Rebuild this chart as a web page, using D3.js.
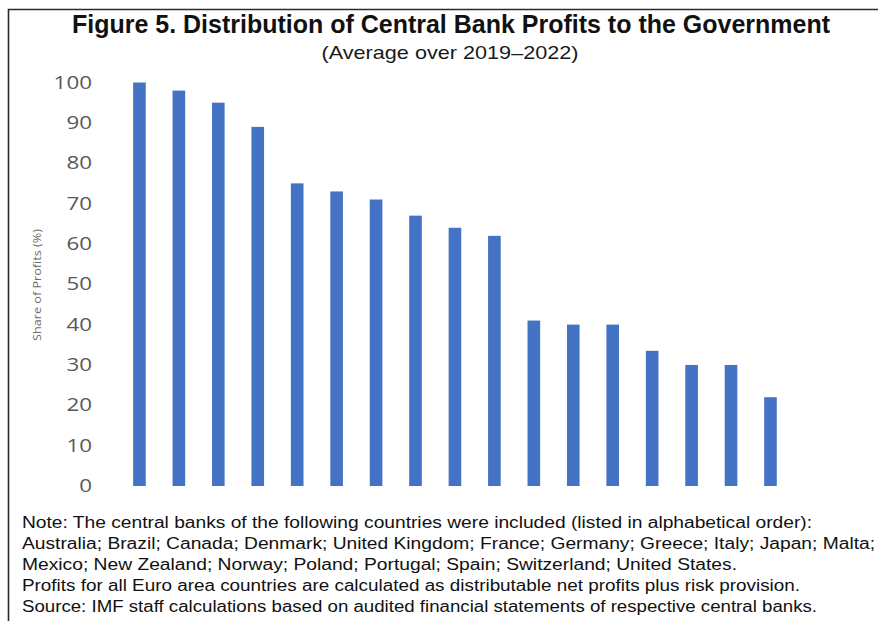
<!DOCTYPE html>
<html>
<head>
<meta charset="utf-8">
<script src="https://cdn.jsdelivr.net/npm/d3@7"></script>
<style>
  html, body { margin: 0; padding: 0; background: #ffffff; }
  svg { display: block; }
</style>
</head>
<body>
<svg id="chart" width="878" height="621"></svg>
<script>
// Central banks, sorted by share of profits distributed (unlabelled in the figure)
const categories = ["1", "2", "3", "4", "5", "6", "7", "8", "9", "10", "11", "12", "13", "14", "15", "16", "17"];
// Share of profits distributed to the government, % (average 2019–2022)
const shares = [100, 98, 95, 89, 75, 73, 71, 67, 64, 62, 41, 40, 40, 33.5, 30, 30, 22];
const yTicks = [0, 10, 20, 30, 40, 50, 60, 70, 80, 90, 100];

const titleText = "Figure 5. Distribution of Central Bank Profits to the Government";
const subtitleText = "(Average over 2019\u20132022)";
const yAxisTitle = "Share of Profits (%)";
const noteLines = [
  "Note: The central banks of the following countries were included (listed in alphabetical order):",
  "Australia; Brazil; Canada; Denmark; United Kingdom; France; Germany; Greece; Italy; Japan; Malta;",
  "Mexico; New Zealand; Norway; Poland; Portugal; Spain; Switzerland; United States.",
  "Profits for all Euro area countries are calculated as distributable net profits plus risk provision.",
  "Source: IMF staff calculations based on audited financial statements of respective central banks."
];
const noteWidths = [790, 853, 715, 778, 795];

const svg = d3.select("#chart");

// Frame: top and left rules
svg.append("path")
  .attr("d", "M878,9.5H8.5V621")
  .attr("fill", "none")
  .attr("stroke", "#2b2b2b")
  .attr("stroke-width", 1.6);

// Title block
svg.append("text")
  .attr("x", 451).attr("y", 33)
  .attr("text-anchor", "middle")
  .attr("font-family", "Liberation Sans, Arial, sans-serif")
  .attr("font-weight", "bold")
  .attr("font-size", 25)
  .attr("fill", "#111111")
  .attr("textLength", 758)
  .attr("lengthAdjust", "spacingAndGlyphs")
  .text(titleText);

svg.append("text")
  .attr("x", 450).attr("y", 59)
  .attr("text-anchor", "middle")
  .attr("font-family", "Liberation Sans, Arial, sans-serif")
  .attr("font-size", 19)
  .attr("fill", "#1a1a1a")
  .attr("textLength", 257)
  .attr("lengthAdjust", "spacingAndGlyphs")
  .text(subtitleText);

// Scales
const x = d3.scaleBand()
  .domain(categories)
  .range([113.4, 796.5])
  .paddingInner(0.68)
  .paddingOuter(0.5);

const y = d3.scaleLinear()
  .domain([0, 100])
  .range([486, 82.5]);

// Y axis (labels only, no domain line or tick marks)
const yAxis = d3.axisLeft(y)
  .tickValues(yTicks)
  .tickSize(0)
  .tickPadding(0)
  .tickFormat(d3.format("d"));

const yAxisG = svg.append("g")
  .attr("transform", "translate(92,0)")
  .call(yAxis);

yAxisG.select(".domain").remove();
yAxisG.selectAll("text")
  .attr("font-family", "Open Sans, DejaVu Sans, sans-serif")
  .attr("font-size", 17.5)
  .attr("fill", "#595959")
  .attr("textLength", d => String(d).length * 12.8)
  .attr("lengthAdjust", "spacingAndGlyphs");

// Y axis title
svg.append("text")
  .attr("transform", "translate(40.5,285) rotate(-90)")
  .attr("text-anchor", "middle")
  .attr("font-family", "Open Sans, DejaVu Sans, sans-serif")
  .attr("font-size", 11)
  .attr("fill", "#6b6b6b")
  .attr("textLength", 112)
  .attr("lengthAdjust", "spacingAndGlyphs")
  .text(yAxisTitle);

// Bars
svg.append("g")
  .selectAll("rect")
  .data(shares)
  .join("rect")
  .attr("x", (d, i) => x(categories[i]))
  .attr("y", d => y(d))
  .attr("width", x.bandwidth())
  .attr("height", d => y(0) - y(d))
  .attr("fill", "#4472c4");

// Notes
svg.append("g")
  .selectAll("text")
  .data(noteLines)
  .join("text")
  .attr("x", 22)
  .attr("y", (d, i) => 528 + i * 20.9)
  .attr("font-family", "Liberation Sans, Arial, sans-serif")
  .attr("font-size", 16)
  .attr("fill", "#111111")
  .attr("textLength", (d, i) => noteWidths[i])
  .attr("lengthAdjust", "spacingAndGlyphs")
  .text(d => d);
</script>
</body>
</html>
